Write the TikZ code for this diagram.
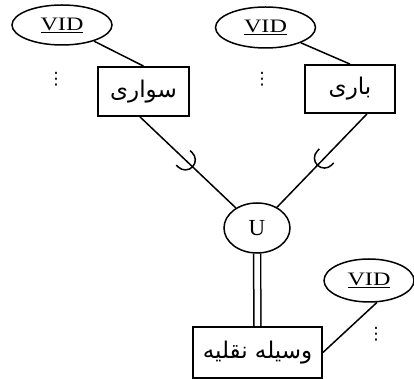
\documentclass[tikz,border=0pt]{standalone}
\usepackage{fontspec}
\setmainfont{Liberation Serif}
\newfontfamily\vidfont[FakeStretch=1.27]{Liberation Serif}
\newfontfamily\fafont[Script=Arabic]{DejaVu Sans}
\newfontfamily\symfont{DejaVu Sans}
\TeXXeTstate=1
\usetikzlibrary{shapes.geometric,calc,backgrounds}
\newcommand\fatext[1]{{\fafont\beginR #1\endR}}
\newcommand\keyattr{{\vidfont\fontsize{19}{20}\selectfont\underline{VID}}}
\tikzset{
  entity/.style={draw, line width=1.8pt, inner sep=0pt, font=\fontsize{23}{26}\selectfont},
  attr/.style={draw, ellipse, line width=1.5pt, inner sep=0pt},
  link/.style={line width=1.5pt},
  cup/.style={line width=1.5pt},
  moredots/.style={inner sep=0pt, font=\symfont\fontsize{17}{18}\selectfont}
}
\begin{document}
\begin{tikzpicture}[x=1pt,y=1pt]
\useasboundingbox (0,0) rectangle (414,379);

% entity sets
\node[entity, minimum width=91pt, minimum height=49pt] (car) at (143.5,287.5) {\fatext{سواری}};
\node[entity, minimum width=90pt, minimum height=48pt] (truck) at (350,290) {\fatext{باری}};
\node[entity, minimum width=129pt, minimum height=51pt] (vehicle) at (257.5,26.5) {\fatext{وسیله نقلیه}};

% union node
\node[attr, minimum width=66pt, minimum height=50pt, font=\fontsize{23}{24}\selectfont] (union) at (257,151) {U};

% key attributes
\node[attr, minimum width=100pt, minimum height=40pt] (vidcar) at (62,354) {\keyattr};
\node[attr, minimum width=100pt, minimum height=41pt] (vidtruck) at (265.5,351.5) {\keyattr};
\node[attr, minimum width=90pt, minimum height=43pt] (vidveh) at (369,98.5) {\keyattr};

% further attributes
\node[moredots] (morecar) at (56,300) {⋮};
\node[moredots] (moretruck) at (262,300) {⋮};
\node[moredots] (moreveh) at (376,45) {⋮};

\begin{scope}[on background layer]
  \draw[link] (vidcar) -- (car.north);
  \draw[link] (vidtruck) -- (truck.north);
  \draw[link] (vidveh.-70) -- (vehicle.east);

  \draw[link] ([xshift=-3.5pt]car.south) -- (union) coordinate[pos=0.45] (cupA);
  \draw[link] ([xshift=17pt]truck.south) -- (union) coordinate[pos=0.45] (cupB);
  \draw[link, double, double distance=5.5pt] (union) -- (vehicle);

  % subset marks on the specialization lines
  \foreach \c in {cupA,cupB}{
    \draw[cup] let \p1=($(union)-(\c)$), \n1={atan2(\y1,\x1)} in
      ($(\c)+(\n1+90:10pt)$) -- ++(\n1:3pt)
      arc[start angle=\n1+90, end angle=\n1-90, radius=10pt]
      -- ++(\n1+180:3pt);
  }
\end{scope}
\end{tikzpicture}
\end{document}
